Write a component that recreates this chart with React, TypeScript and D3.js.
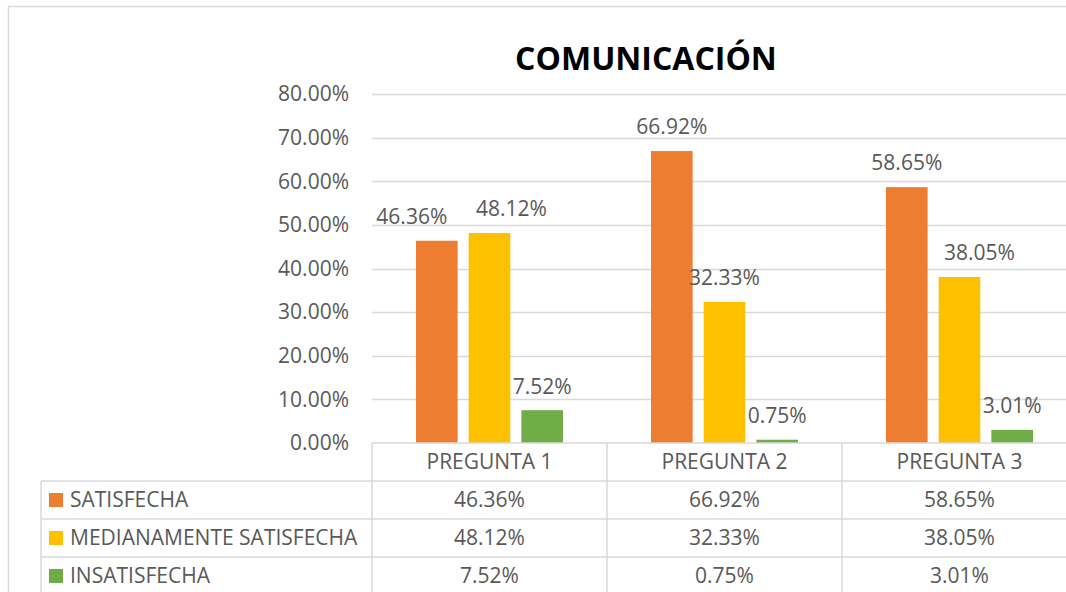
import React, { useEffect, useRef } from "react";
import * as d3 from "d3";

const title = "COMUNICACIÓN";
const categories = ["PREGUNTA 1", "PREGUNTA 2", "PREGUNTA 3"];
const seriesNames = ["SATISFECHA", "MEDIANAMENTE SATISFECHA", "INSATISFECHA"];
const satisfecha = [46.36, 66.92, 58.65];
const medianamente = [48.12, 32.33, 38.05];
const insatisfecha = [7.52, 0.75, 3.01];
const seriesColors = ["#ED7D31", "#FFC000", "#70AD47"];
const yTicks = [0, 10, 20, 30, 40, 50, 60, 70, 80];
// manual label nudges (px) as in the source chart
const labelNudge = [
  [-25, 0, 0],
  [22, 0, 20],
  [0, 0, 0],
];

const W = 1066;
const H = 592;
const FONT = "'Open Sans', 'Liberation Sans', sans-serif";
const TXT = "#595959";
const GRID = "#d9d9d9";

export default function App() {
  const ref = useRef<SVGSVGElement>(null);
  useEffect(() => {
    const svg = d3.select(ref.current);
    svg.selectAll("*").remove();
    const values = [satisfecha, medianamente, insatisfecha];

    const plotL = 372;
    const catW = 235;
    const plotR = plotL + catW * categories.length;
    const y = d3.scaleLinear().domain([0, 80]).range([443, 94]);
    const x0 = d3.scaleBand<string>().domain(categories).range([plotL, plotR]).padding(0);
    const x1 = d3.scaleBand<string>().domain(seriesNames).range([44, 191]).paddingInner(0.21);

    svg.append("rect").attr("x", 8.5).attr("y", 6.5).attr("width", 1100).attr("height", 700)
      .attr("fill", "white").attr("stroke", GRID).attr("stroke-width", 1.5);

    svg.append("text").attr("x", 646).attr("y", 70).attr("text-anchor", "middle")
      .attr("font-family", "'Open Sans', sans-serif").attr("font-weight", 700)
      .attr("font-size", 32).attr("fill", "#000").text(title);

    const g = svg.append("g");
    yTicks.forEach((t) => {
      if (t > 0) {
        g.append("line").attr("x1", plotL).attr("x2", plotR)
          .attr("y1", Math.round(y(t)) + 0.5).attr("y2", Math.round(y(t)) + 0.5)
          .attr("stroke", GRID).attr("stroke-width", 1.3);
      }
      g.append("text").attr("x", 349).attr("y", y(t)).attr("dy", "0.35em")
        .attr("text-anchor", "end").attr("font-family", FONT).attr("font-size", 21)
        .attr("fill", TXT).text(t.toFixed(2) + "%");
    });

    // bars
    values.forEach((vals, s) => {
      categories.forEach((c, i) => {
        const bx = (x0(c) as number) + (x1(seriesNames[s]) as number);
        const bw = x1.bandwidth();
        g.append("rect").attr("x", bx).attr("y", y(vals[i])).attr("width", bw)
          .attr("height", y(0) - y(vals[i])).attr("fill", seriesColors[s]);
        g.append("text").attr("x", bx + bw / 2 + labelNudge[s][i]).attr("y", y(vals[i]) - 24)
          .attr("dy", "0.35em").attr("text-anchor", "middle").attr("font-family", FONT)
          .attr("font-size", 21).attr("fill", TXT).text(vals[i].toFixed(2) + "%");
      });
    });

    // data table
    const rowTop = 443;
    const rowH = 38;
    const tableL = 41;
    const lineAttr = (sel: any) => sel.attr("stroke", GRID).attr("stroke-width", 1.5);
    lineAttr(g.append("line").attr("x1", plotL).attr("x2", plotR).attr("y1", rowTop).attr("y2", rowTop));
    for (let r = 1; r <= 4; r++) {
      const yy = rowTop + r * rowH;
      lineAttr(g.append("line").attr("x1", tableL).attr("x2", plotR).attr("y1", yy).attr("y2", yy));
    }
    lineAttr(g.append("line").attr("x1", tableL).attr("x2", tableL).attr("y1", rowTop + rowH).attr("y2", rowTop + rowH * 4));
    categories.forEach((c) => {
      const xx = x0(c) as number;
      lineAttr(g.append("line").attr("x1", xx).attr("x2", xx).attr("y1", rowTop).attr("y2", rowTop + rowH * 4));
    });
    lineAttr(g.append("line").attr("x1", plotR).attr("x2", plotR).attr("y1", rowTop).attr("y2", rowTop + rowH * 4));

    categories.forEach((c) => {
      g.append("text").attr("x", (x0(c) as number) + catW / 2).attr("y", rowTop + rowH / 2)
        .attr("dy", "0.35em").attr("text-anchor", "middle").attr("font-family", FONT)
        .attr("font-size", 21).attr("fill", TXT).text(c);
    });
    seriesNames.forEach((name, s) => {
      const cy = rowTop + rowH * (s + 1) + rowH / 2;
      g.append("rect").attr("x", 49).attr("y", cy - 7).attr("width", 14).attr("height", 14)
        .attr("fill", seriesColors[s]);
      g.append("text").attr("x", 70).attr("y", cy).attr("dy", "0.35em")
        .attr("font-family", FONT).attr("font-size", 21).attr("fill", TXT).text(name);
      categories.forEach((c, i) => {
        g.append("text").attr("x", (x0(c) as number) + catW / 2).attr("y", cy).attr("dy", "0.35em")
          .attr("text-anchor", "middle").attr("font-family", FONT).attr("font-size", 21)
          .attr("fill", TXT).text(values[s][i].toFixed(2) + "%");
      });
    });
  }, []);

  return (
    <svg ref={ref} width={W} height={H}
      style={{ position: "absolute", left: 0, top: 0, background: "white" }} />
  );
}
